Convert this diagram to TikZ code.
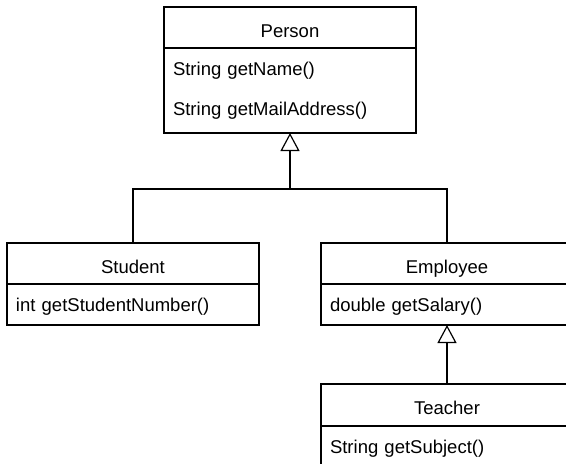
\documentclass[tikz,border=0pt]{standalone}
\usepackage{fontspec}
\setmainfont{Liberation Sans}
\usetikzlibrary{arrows.meta,positioning}

\begin{document}
\begin{tikzpicture}[
    x=1pt, y=-1pt,
    font=\fontsize{18.5}{22}\selectfont,
    classname/.style={draw, line width=1.2pt, outer sep=0pt, minimum width=252pt, minimum height=41pt, text height=19pt, text depth=0pt, anchor=north},
    classops/.style={draw, line width=1.2pt, outer sep=0pt, text width=234pt, inner xsep=9pt, inner ysep=0pt, minimum height=41pt, align=left},
    classop/.style={classops, text depth=0pt},
    inherit/.style={-{Triangle[open, length=18pt, width=19pt]}, line width=1.2pt}
]
\clip (0,0) rectangle (566,464);

\node[classname] (person) at (290,7) {Person};
\node[classops, minimum height=85pt, below=0pt of person] (personops) {String getName()\\[18pt]String getMailAddress()};

\node[classname] (student) at (133,243) {Student};
\node[classop, below=0pt of student] (studentops) {int getStudentNumber()};

\node[classname] (employee) at (447,243) {Employee};
\node[classop, below=0pt of employee] (employeeops) {double getSalary()};

\node[classname, minimum height=42pt] (teacher) at (447,384) {Teacher};
\node[classop, below=0pt of teacher] (teacherops) {String getSubject()};

\coordinate (split) at (290,189);
\draw[line width=1.2pt] (student.north) |- (split) -| (employee.north);
\draw[inherit] (split) -- (personops.south);
\draw[inherit] (teacher.north) -- (employeeops.south);
\end{tikzpicture}
\end{document}
